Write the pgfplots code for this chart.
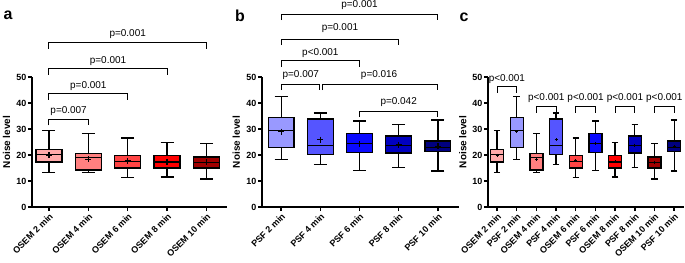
\documentclass[border=0pt]{standalone}
\usepackage{fontspec}
\setmainfont{Liberation Sans}
\usepackage{pgfplots}
\pgfplotsset{compat=1.18}
\usepgfplotslibrary{statistics}

\definecolor{osemA}{HTML}{FFAAAA}
\definecolor{osemB}{HTML}{FF8080}
\definecolor{osemC}{HTML}{FF4444}
\definecolor{osemD}{HTML}{FF0000}
\definecolor{osemE}{HTML}{A00000}
\definecolor{psfA}{HTML}{9999FF}
\definecolor{psfB}{HTML}{5555FF}
\definecolor{psfC}{HTML}{0A0AFF}
\definecolor{psfD}{HTML}{0000C0}
\definecolor{psfE}{HTML}{000080}

\pgfplotsset{
  panel/.style={
    scale only axis, height=130bp, anchor=south west,
    axis lines*=left, ymin=0, ymax=50, ytick={0,10,20,30,40,50},
    tick align=outside, major tick length=4bp, tick pos=left,
    axis line style={line width=1.4bp,black},
    every tick/.style={line width=1.4bp,black},
    /pgf/number format/assume math mode=true,
    yticklabel style={font=\bfseries\fontsize{9}{9}\selectfont, inner sep=1.5bp},
    xticklabel style={font=\bfseries\fontsize{9}{9}\selectfont, rotate=45, anchor=north east, inner sep=1bp},
    ylabel={Noise level},
    ylabel style={font=\bfseries\fontsize{10}{10}\selectfont, at={(axis description cs:-0.13,0.5)}, anchor=center},
    clip=false,
    boxplot/draw direction=y,
    boxplot/box extend=0.66, boxplot/whisker extend=0.33,
  },
  bx/.style={draw=black, line width=1.3bp, solid},
}
\tikzset{
  br/.style={line width=1bp, black},
  pv/.style={font=\fontsize{10}{10}\selectfont, inner sep=0pt},
}

\begin{document}
\begin{tikzpicture}
\path[use as bounding box] (0,0) rectangle (685bp,263bp);

% ---------------- panel a ----------------
\begin{axis}[panel, at={(32bp,56bp)}, width=195bp, xmin=-0.43, xmax=4.52,
  xtick={0,1,2,3,4},
  xticklabels={OSEM 2 min,OSEM 4 min,OSEM 6 min,OSEM 8 min,OSEM 10 min}]
\addplot[bx, fill=osemA, boxplot prepared={draw position=0, lower whisker=13.3, lower quartile=17.3, median=20.1, upper quartile=22.0, upper whisker=29.4}] coordinates {};
\addplot[bx, fill=osemB, boxplot prepared={draw position=1, lower whisker=13.3, lower quartile=14.2, median=19.1, upper quartile=20.5, upper whisker=28.3}] coordinates {};
\addplot[bx, fill=osemC, boxplot prepared={draw position=2, lower whisker=11.3, lower quartile=15.0, median=17.6, upper quartile=19.7, upper whisker=26.5}] coordinates {};
\addplot[bx, fill=osemD, boxplot prepared={draw position=3, lower whisker=11.5, lower quartile=15.0, median=17.3, upper quartile=19.9, upper whisker=24.8}] coordinates {};
\addplot[bx, fill=osemE, boxplot prepared={draw position=4, lower whisker=10.8, lower quartile=15.0, median=17.0, upper quartile=19.2, upper whisker=24.3}] coordinates {};
\addplot[only marks, mark=+, mark size=3bp, mark options={line width=1.3bp, solid}, black]
  coordinates {(0,20.0) (1,18.3) (2,17.8) (3,17.5) (4,17.2)};
\draw[br] (axis cs:0,31.4) |- (axis cs:1,33.7) -- (axis cs:1,31.4);
\node[pv] at (axis cs:0.5,36.9) {p=0.007};
\draw[br] (axis cs:0,41.2) |- (axis cs:2,43.5) -- (axis cs:2,41.2);
\node[pv] at (axis cs:1.0,46.5) {p=0.001};
\draw[br] (axis cs:0,50.8) |- (axis cs:3,53.1) -- (axis cs:3,50.8);
\node[pv] at (axis cs:1.5,56.2) {p=0.001};
\draw[br] (axis cs:0,60.8) |- (axis cs:4,63.1) -- (axis cs:4,60.8);
\node[pv] at (axis cs:2.0,66.5) {p=0.001};
\end{axis}

% ---------------- panel b ----------------
\begin{axis}[panel, at={(262bp,56bp)}, width=197bp, xmin=-0.49, xmax=4.54,
  xtick={0,1,2,3,4},
  xticklabels={PSF 2 min,PSF 4 min,PSF 6 min,PSF 8 min,PSF 10 min}]
\addplot[bx, fill=psfA, boxplot prepared={draw position=0, lower whisker=18.2, lower quartile=22.8, median=29.4, upper quartile=34.4, upper whisker=42.6}] coordinates {};
\addplot[bx, fill=psfB, boxplot prepared={draw position=1, lower whisker=16.4, lower quartile=20.3, median=23.7, upper quartile=33.8, upper whisker=36.2}] coordinates {};
\addplot[bx, fill=psfC, boxplot prepared={draw position=2, lower whisker=14.1, lower quartile=21.0, median=24.3, upper quartile=28.2, upper whisker=33.1}] coordinates {};
\addplot[bx, fill=psfD, boxplot prepared={draw position=3, lower whisker=15.1, lower quartile=20.8, median=23.7, upper quartile=27.3, upper whisker=31.8}] coordinates {};
\addplot[bx, fill=psfE, boxplot prepared={draw position=4, lower whisker=13.8, lower quartile=21.3, median=22.8, upper quartile=25.4, upper whisker=33.5}] coordinates {};
\addplot[only marks, mark=+, mark size=3bp, mark options={line width=1.3bp, solid}, black]
  coordinates {(0,29.0) (1,25.9) (2,24.4) (3,23.8) (4,23.3)};
\draw[br] (axis cs:0,45.0) |- (axis cs:0.97,47.3) -- (axis cs:0.97,45.0);
\node[pv] at (axis cs:0.5,50.8) {p=0.007};
\draw[br] (axis cs:1.05,45.0) |- (axis cs:4,47.3) -- (axis cs:4,45.0);
\node[pv] at (axis cs:2.5,50.8) {p=0.016};
\draw[br] (axis cs:2,34.6) |- (axis cs:4,36.9) -- (axis cs:4,34.6);
\node[pv] at (axis cs:3.0,40.4) {p=0.042};
\draw[br] (axis cs:0,53.9) |- (axis cs:2,56.2) -- (axis cs:2,53.9);
\node[pv] at (axis cs:1.0,59.2) {p<0.001};
\draw[br] (axis cs:0,62.3) |- (axis cs:3,64.6) -- (axis cs:3,62.3);
\node[pv] at (axis cs:1.5,68.8) {p=0.001};
\draw[br] (axis cs:0,71.9) |- (axis cs:4,74.2) -- (axis cs:4,71.9);
\node[pv] at (axis cs:2.0,77.7) {p=0.001};
\end{axis}

% ---------------- panel c ----------------
\begin{axis}[panel, at={(488bp,56bp)}, width=196bp, xmin=-0.46, xmax=9.5,
  xtick={0,1,2,3,4,5,6,7,8,9},
  xticklabels={OSEM 2 min,PSF 2 min,OSEM 4 min,PSF 4 min,OSEM 6 min,PSF 6 min,OSEM 8 min,PSF 8 min,OSEM 10 min,PSF 10 min},
  ylabel style={at={(axis description cs:-0.128,0.5)}}]
\addplot[bx, fill=osemA, boxplot prepared={draw position=0, lower whisker=13.3, lower quartile=17.3, median=20.1, upper quartile=22.0, upper whisker=29.4}] coordinates {};
\addplot[bx, fill=psfA, boxplot prepared={draw position=1, lower whisker=18.2, lower quartile=22.8, median=29.4, upper quartile=34.4, upper whisker=42.6}] coordinates {};
\addplot[bx, fill=osemB, boxplot prepared={draw position=2, lower whisker=13.3, lower quartile=14.2, median=19.1, upper quartile=20.5, upper whisker=28.3}] coordinates {};
\addplot[bx, fill=psfB, boxplot prepared={draw position=3, lower whisker=16.4, lower quartile=20.3, median=23.7, upper quartile=33.8, upper whisker=36.2}] coordinates {};
\addplot[bx, fill=osemC, boxplot prepared={draw position=4, lower whisker=11.3, lower quartile=15.0, median=17.6, upper quartile=19.7, upper whisker=26.5}] coordinates {};
\addplot[bx, fill=psfC, boxplot prepared={draw position=5, lower whisker=14.1, lower quartile=21.0, median=24.3, upper quartile=28.2, upper whisker=33.1}] coordinates {};
\addplot[bx, fill=osemD, boxplot prepared={draw position=6, lower whisker=11.5, lower quartile=15.0, median=17.3, upper quartile=19.9, upper whisker=24.8}] coordinates {};
\addplot[bx, fill=psfD, boxplot prepared={draw position=7, lower whisker=15.1, lower quartile=20.8, median=23.7, upper quartile=27.3, upper whisker=31.8}] coordinates {};
\addplot[bx, fill=osemE, boxplot prepared={draw position=8, lower whisker=10.8, lower quartile=15.0, median=17.0, upper quartile=19.2, upper whisker=24.3}] coordinates {};
\addplot[bx, fill=psfE, boxplot prepared={draw position=9, lower whisker=13.8, lower quartile=21.3, median=22.8, upper quartile=25.4, upper whisker=33.5}] coordinates {};
\addplot[only marks, mark=+, mark size=1.5bp, mark options={line width=1bp, solid}, black]
  coordinates {(0,20.0) (1,29.0) (2,18.3) (3,25.9) (4,17.8) (5,24.4) (6,17.5) (7,23.8) (8,17.2) (9,23.3)};
\draw[br] (axis cs:0,43.9) |- (axis cs:1,46.2) -- (axis cs:1,43.9);
\node[pv] at (axis cs:0.5,49.2) {p<0.001};
\draw[br] (axis cs:2,36.2) |- (axis cs:3,38.5) -- (axis cs:3,36.2);
\node[pv] at (axis cs:2.5,41.9) {p<0.001};
\draw[br] (axis cs:4,36.2) |- (axis cs:5,38.5) -- (axis cs:5,36.2);
\node[pv] at (axis cs:4.5,41.9) {p<0.001};
\draw[br] (axis cs:6,36.2) |- (axis cs:7,38.5) -- (axis cs:7,36.2);
\node[pv] at (axis cs:6.5,41.9) {p<0.001};
\draw[br] (axis cs:8,36.2) |- (axis cs:9,38.5) -- (axis cs:9,36.2);
\node[pv] at (axis cs:8.5,41.9) {p<0.001};
\end{axis}

% panel letters
\node[font=\bfseries\fontsize{16}{16}\selectfont] at (8bp,247.5bp) {a};
\node[font=\bfseries\fontsize{16}{16}\selectfont] at (240bp,247.5bp) {b};
\node[font=\bfseries\fontsize{16}{16}\selectfont] at (464bp,246bp) {c};
\end{tikzpicture}
\end{document}
